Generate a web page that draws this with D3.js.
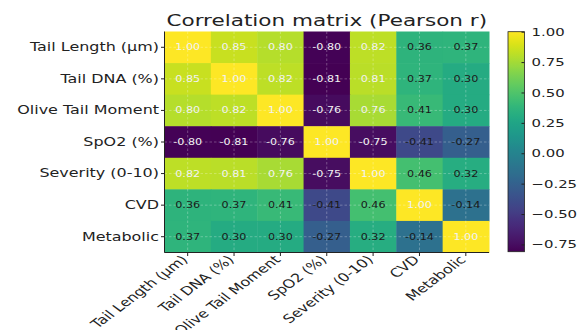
<!DOCTYPE html>
<html>
<head>
<meta charset="utf-8">
<script src="https://cdn.jsdelivr.net/npm/d3@7"></script>
<style>
  html, body { margin: 0; padding: 0; background: #fff; }
  svg { display: block; font-family: "DejaVu Sans", sans-serif; }
</style>
</head>
<body>
<svg id="chart" width="579" height="330"></svg>
<script>
const variables = ["Tail Length (µm)", "Tail DNA (%)", "Olive Tail Moment", "SpO2 (%)", "Severity (0-10)", "CVD", "Metabolic"];
const rowTailLength = [1.00, 0.85, 0.80, -0.80, 0.82, 0.36, 0.37];
const rowTailDNA    = [0.85, 1.00, 0.82, -0.81, 0.81, 0.37, 0.30];
const rowOliveTM    = [0.80, 0.82, 1.00, -0.76, 0.76, 0.41, 0.30];
const rowSpO2       = [-0.80, -0.81, -0.76, 1.00, -0.75, -0.41, -0.27];
const rowSeverity   = [0.82, 0.81, 0.76, -0.75, 1.00, 0.46, 0.32];
const rowCVD        = [0.36, 0.37, 0.41, -0.41, 0.46, 1.00, -0.14];
const rowMetabolic  = [0.37, 0.30, 0.30, -0.27, 0.32, -0.14, 1.00];
const colorbarTicks = [-0.75, -0.50, -0.25, 0.00, 0.25, 0.50, 0.75, 1.00];
const titleText = "Correlation matrix (Pearson r)";

(function () {
const SX = 1.33; // horizontal stretch of glyphs seen in the reference
const matrix = [rowTailLength, rowTailDNA, rowOliveTM, rowSpO2, rowSeverity, rowCVD, rowMetabolic];
const cells = [];
matrix.forEach((row, i) => row.forEach((v, j) => cells.push({r: variables[i], c: variables[j], v})));

const svg = d3.select("#chart");
const mLeft = 164.5, mTop = 31.5, mRight = 489, mBottom = 252.5;

const x = d3.scaleBand().domain(variables).range([mLeft, mRight]);
const y = d3.scaleBand().domain(variables).range([mTop, mBottom]);
const allVals = matrix.flat();
const vmin = d3.min(allVals), vmax = d3.max(allVals);
const color = d3.scaleSequential(d3.interpolateViridis).domain([vmin, vmax]);

// cells
svg.append("g").selectAll("rect").data(cells).join("rect")
  .attr("x", d => x(d.c)).attr("y", d => y(d.r))
  .attr("width", x.bandwidth() + 0.5).attr("height", y.bandwidth() + 0.5)
  .attr("fill", d => color(d.v));

// dashed grid at tick centers
const grid = svg.append("g").attr("stroke", "#ffffff").attr("stroke-opacity", 0.4)
  .attr("stroke-width", 0.7).attr("stroke-dasharray", "2.5,2");
variables.forEach(v => {
  const gxp = x(v) + x.bandwidth() / 2;
  grid.append("line").attr("x1", gxp).attr("x2", gxp).attr("y1", mTop).attr("y2", mBottom);
  const gyp = y(v) + y.bandwidth() / 2;
  grid.append("line").attr("x1", mLeft).attr("x2", mRight).attr("y1", gyp).attr("y2", gyp);
});

// annotations
const fmt = d3.format(".2f");
svg.append("g").selectAll("text").data(cells).join("text")
  .attr("transform", d => `translate(${x(d.c) + x.bandwidth() / 2},${y(d.r) + y.bandwidth() / 2}) scale(${SX},1)`)
  .attr("dy", "0.36em")
  .attr("text-anchor", "middle")
  .attr("font-size", 8.4)
  .attr("fill", d => Math.abs(d.v) > 0.5 ? "#f2f2f2" : "#1a1a1a")
  .text(d => fmt(d.v).replace("−", "-"));

// y axis
const yAxis = d3.axisLeft(y).tickSize(3.5).tickPadding(2);
const gy = svg.append("g").attr("transform", `translate(${mLeft},0)`).call(yAxis);
gy.selectAll("text").attr("font-size", 12).attr("fill", "#222").attr("font-family", "DejaVu Sans")
  .attr("transform", `translate(-5.5,0) scale(${SX},1)`).attr("x", 0);
gy.select(".domain").attr("stroke", "#222").attr("d", `M0,${mTop}V${mBottom}`);
gy.selectAll(".tick line").attr("stroke", "#222");

// x axis
const xAxis = d3.axisBottom(x).tickSize(3.5).tickPadding(3);
const gx = svg.append("g").attr("transform", `translate(0,${mBottom})`).call(xAxis);
gx.select(".domain").attr("stroke", "#222").attr("d", `M${mLeft},0H${mRight}`);
gx.selectAll(".tick line").attr("stroke", "#222");
gx.selectAll("text")
  .attr("font-size", 12).attr("fill", "#222").attr("font-family", "DejaVu Sans")
  .attr("text-anchor", "end")
  .attr("dy", "0.35em")
  .attr("transform", `translate(-3,5) scale(${SX},1) rotate(-45)`)
  .attr("y", 0).attr("x", 0);

// title
svg.append("text").attr("transform", `translate(${(mLeft + mRight) / 2},26) scale(${SX},1)`)
  .attr("text-anchor", "middle").attr("font-size", 16.2).attr("fill", "#222")
  .text(titleText);

// colorbar
const cbX = 508, cbW = 16.5, cbTop = 31.7, cbBottom = 251.7;
const cby = d3.scaleLinear().domain([vmin, vmax]).range([cbBottom, cbTop]);
const defs = svg.append("defs");
const grad = defs.append("linearGradient").attr("id", "cbgrad")
  .attr("x1", 0).attr("y1", 1).attr("x2", 0).attr("y2", 0);
d3.range(0, 1.0001, 0.02).forEach(t => {
  grad.append("stop").attr("offset", t).attr("stop-color", d3.interpolateViridis(t));
});
svg.append("rect").attr("x", cbX).attr("y", cbTop).attr("width", cbW).attr("height", cbBottom - cbTop)
  .attr("fill", "url(#cbgrad)").attr("stroke", "#222").attr("stroke-width", 0.8);
const cbAxis = d3.axisRight(cby).tickValues(colorbarTicks).tickSize(3).tickPadding(5)
  .tickFormat(d => d3.format(".2f")(d));
const gc = svg.append("g").attr("transform", `translate(${cbX + cbW},0)`).call(cbAxis);
gc.select(".domain").remove();
gc.selectAll(".tick line").attr("stroke", "#222").attr("x2", -3);
gc.selectAll("text").attr("font-size", 11.2).attr("fill", "#222").attr("font-family", "DejaVu Sans")
  .attr("x", 0).attr("transform", `translate(7,0) scale(${SX},1)`);
})();
</script>
</body>
</html>
